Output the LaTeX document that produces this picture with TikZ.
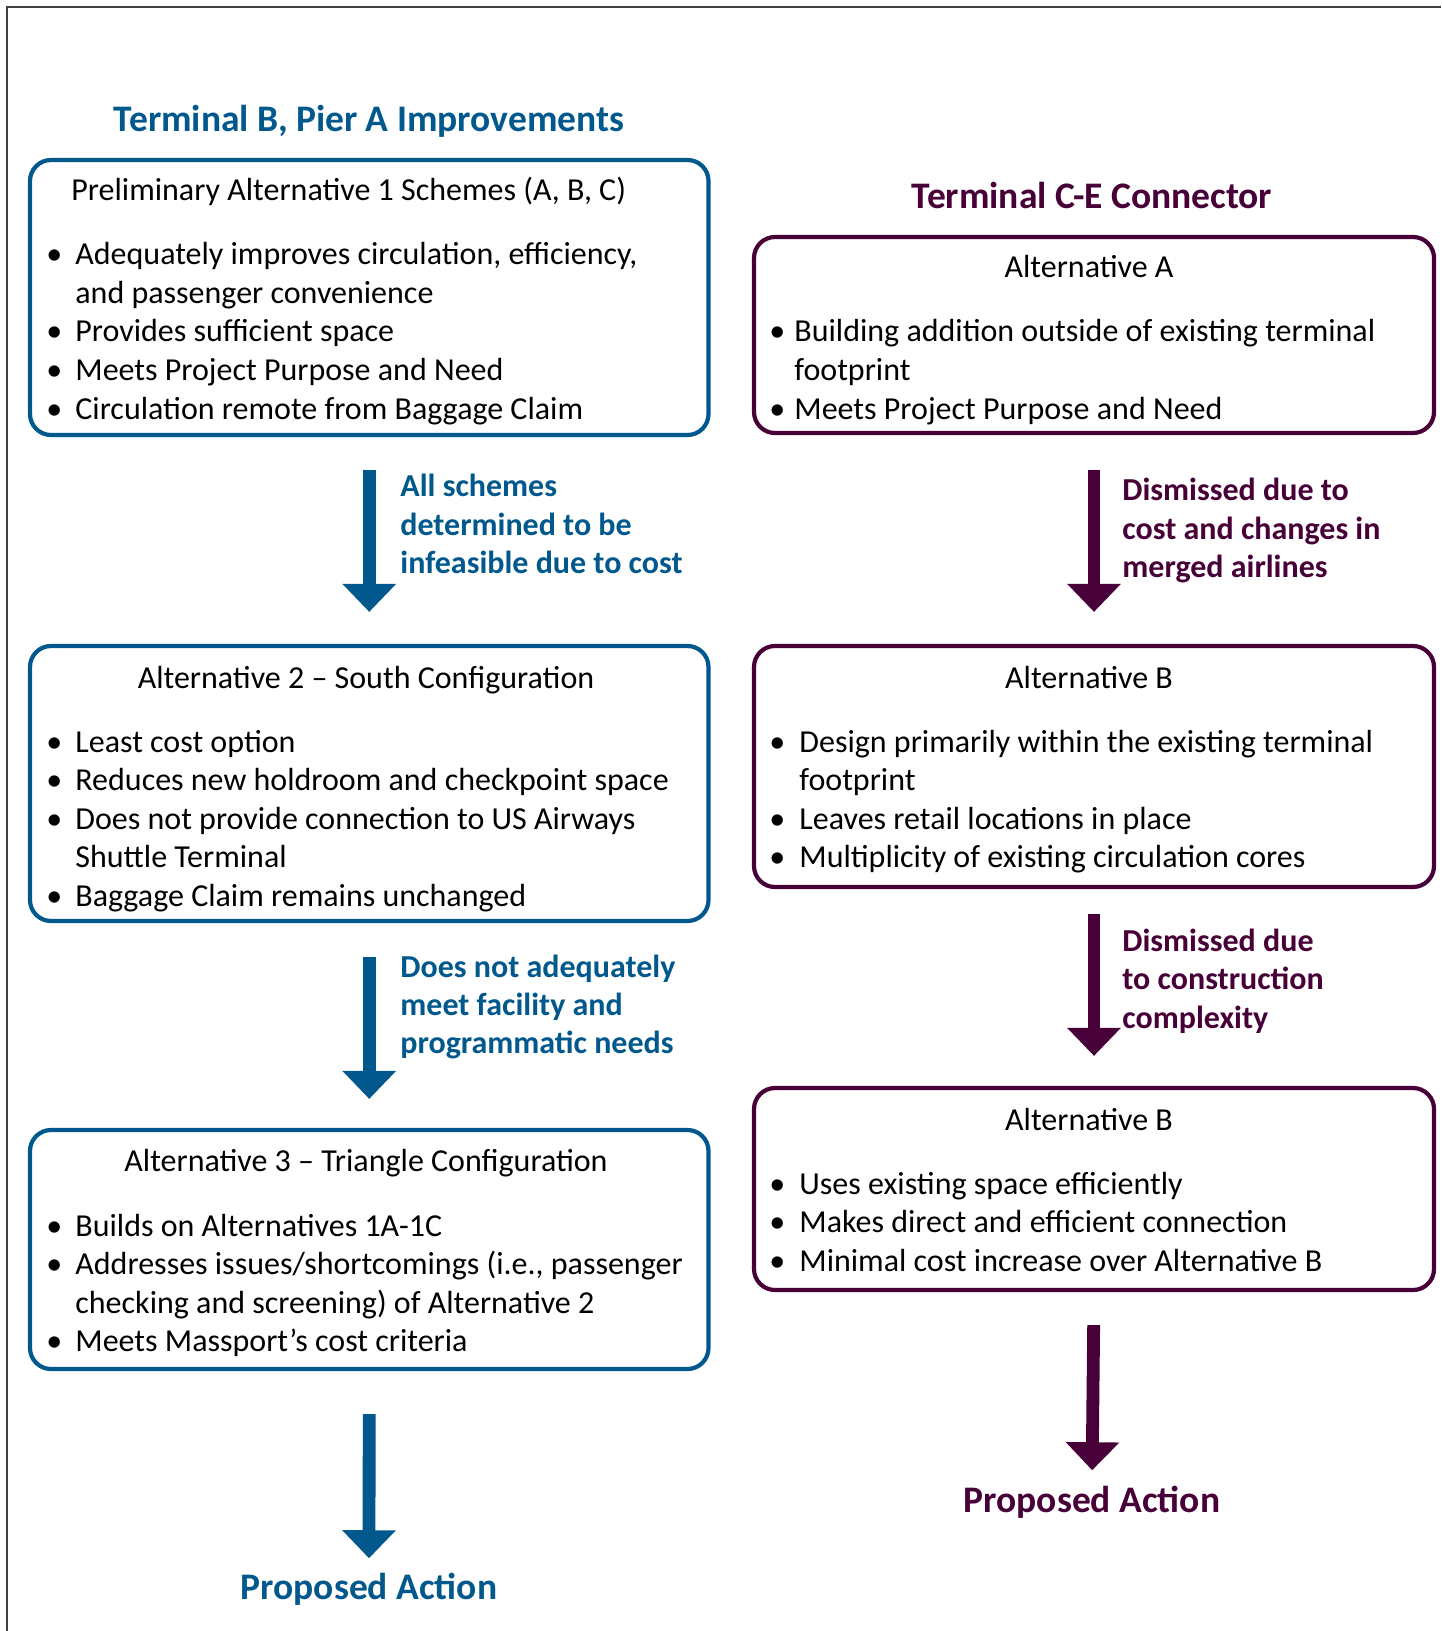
\documentclass[tikz,border=0pt]{standalone}
\usepackage{fontspec}
\setmainfont{Carlito}
\usetikzlibrary{arrows.meta}
\definecolor{pierblue}{RGB}{0,88,140}
\definecolor{cepurple}{RGB}{72,0,56}
\newcommand{\bodyfont}{\fontsize{16}{19}\selectfont}
\newcommand{\lblfont}{\fontsize{16}{19}\selectfont\bfseries}
\newcommand{\ttlfont}{\fontsize{18.75}{22}\selectfont\bfseries}
\newcommand{\itm}[1][14.5pt]{\makebox[#1][l]{\textbullet}}

\begin{document}
\begin{tikzpicture}[x=0.5pt,y=0.5pt,yscale=-1,
  box/.style={draw, line width=2.1pt, rounded corners=10.5pt, inner sep=0pt},
  txt/.style={anchor=base west, inner sep=0pt, yshift=-1pt, font=\bodyfont},
  hd/.style={anchor=base, inner sep=0pt, yshift=-1pt, font=\bodyfont},
  lbl/.style={anchor=base west, inner sep=0pt, yshift=-1pt, font=\lblfont},
  ttl/.style={anchor=base, inner sep=0pt, yshift=-1pt, font=\ttlfont},
  flow/.style={line width=6.4pt, -{Triangle[width=26pt,length=14pt]}}]
\useasboundingbox (0,0) rectangle (1441,1631);

%Frame
\draw [line width=0.75pt, black!75] (1441,7) -- (7,7) -- (7,1631);

%Titles
\node [ttl, text=pierblue] (ttlL) at (369,130) {Terminal B, Pier A Improvements};
\node [ttl, text=cepurple] (ttlR) at (1092,207) {Terminal C-E Connector};

%Rounded Rect -- left column
\node [box, pierblue, minimum width=339.25pt, minimum height=137.5pt] (l1) at (369.25,297.5) {};
\node [box, pierblue, minimum width=339.25pt, minimum height=137.5pt] (l2) at (369.25,783.5) {};
\node [box, pierblue, minimum width=339.25pt, minimum height=119.5pt] (l3) at (369.25,1249.5) {};

%Rounded Rect -- right column
\node [box, cepurple, minimum width=340pt, minimum height=98pt] (r1) at (1094,335) {};
\node [box, cepurple, minimum width=340pt, minimum height=120.5pt] (r2) at (1094,766.5) {};
\node [box, cepurple, minimum width=340pt, minimum height=101pt] (r3) at (1094,1189) {};

%Text -- first left box
\node [txt] (l1h) at (71,199) {Preliminary Alternative 1 Schemes (A, B, C)};
\node [txt] (l1a) at (46,263) {\itm Adequately improves circulation, efficiency,};
\node [txt] (l1b) at (75,301.5) {and passenger convenience};
\node [txt] (l1c) at (46,340) {\itm Provides sufficient space};
\node [txt] (l1d) at (46,378.5) {\itm Meets Project Purpose and Need};
\node [txt] (l1e) at (46,417) {\itm Circulation remote from Baggage Claim};

%Text -- second left box
\node [hd] (l2h) at (366,686) {Alternative 2 -- South Configuration};
\node [txt] (l2a) at (46,750) {\itm Least cost option};
\node [txt] (l2b) at (46,788.5) {\itm Reduces new holdroom and checkpoint space};
\node [txt] (l2c) at (46,827) {\itm Does not provide connection to US Airways};
\node [txt] (l2d) at (75,865.5) {Shuttle Terminal};
\node [txt] (l2e) at (46,904) {\itm Baggage Claim remains unchanged};

%Text -- third left box
\node [hd] (l3h) at (366,1169) {Alternative 3 -- Triangle Configuration};
\node [txt] (l3a) at (46,1234) {\itm Builds on Alternatives 1A-1C};
\node [txt] (l3b) at (46,1272.5) {\itm Addresses issues/shortcomings (i.e., passenger};
\node [txt] (l3c) at (75,1311) {checking and screening) of Alternative 2};
\node [txt] (l3d) at (46,1349.5) {\itm Meets Massport’s cost criteria};

%Text -- first right box
\node [hd] (r1h) at (1089,276) {Alternative A};
\node [txt] (r1a) at (769,340) {\itm[12.5pt]Building addition outside of existing terminal};
\node [txt] (r1b) at (794,378.5) {footprint};
\node [txt] (r1c) at (769,417) {\itm[12.5pt]Meets Project Purpose and Need};

%Text -- second right box
\node [hd] (r2h) at (1089,686) {Alternative B};
\node [txt] (r2a) at (769,750) {\itm[15pt]Design primarily within the existing terminal};
\node [txt] (r2b) at (799,788.5) {footprint};
\node [txt] (r2c) at (769,827) {\itm[15pt]Leaves retail locations in place};
\node [txt] (r2d) at (769,865.5) {\itm[15pt]Multiplicity of existing circulation cores};

%Text -- third right box
\node [hd] (r3h) at (1089,1128) {Alternative B};
\node [txt] (r3a) at (769,1192) {\itm[15pt]Uses existing space efficiently};
\node [txt] (r3b) at (769,1230.5) {\itm[15pt]Makes direct and efficient connection};
\node [txt] (r3c) at (769,1269) {\itm[15pt]Minimal cost increase over Alternative B};

%Arrow labels
\node [lbl, text=pierblue] (al1a) at (400,494) {All schemes};
\node [lbl, text=pierblue] (al1b) at (400,533) {determined to be};
\node [lbl, text=pierblue] (al1c) at (400,571) {infeasible due to cost};
\node [lbl, text=pierblue] (al2a) at (400,975) {Does not adequately};
\node [lbl, text=pierblue] (al2b) at (400,1013) {meet facility and};
\node [lbl, text=pierblue] (al2c) at (400,1051) {programmatic needs};
\node [lbl, text=cepurple] (ar1a) at (1122,498) {Dismissed due to};
\node [lbl, text=cepurple] (ar1b) at (1122,537) {cost and changes in};
\node [lbl, text=cepurple] (ar1c) at (1122,575) {merged airlines};
\node [lbl, text=cepurple] (ar2a) at (1122,949) {Dismissed due};
\node [lbl, text=cepurple] (ar2b) at (1122,987) {to construction};
\node [lbl, text=cepurple] (ar2c) at (1122,1026) {complexity};

%Outcomes
\node [ttl, text=pierblue] (propL) at (369,1597) {Proposed Action};
\node [ttl, text=cepurple] (propR) at (1092,1510) {Proposed Action};

%Arrows
\draw [flow, pierblue, shorten <=16.5pt, shorten >=16pt] (l1.south) -- (l2.north);
\draw [flow, pierblue, shorten <=17pt, shorten >=14.5pt] (l2.south) -- (l3.north);
\draw [flow, pierblue, shorten <=21.5pt, shorten >=7pt] (l3.south) -- (propL.north);
\draw [flow, cepurple, shorten <=17.5pt, shorten >=16pt] (r1.south) -- (r2.north);
\draw [flow, cepurple, shorten <=12.5pt, shorten >=15pt] (r2.south) -- (r3.north);
\draw [flow, cepurple, shorten <=16.5pt, shorten >=7.5pt] (r3.south) -- (propR.north);

\end{tikzpicture}
\end{document}
